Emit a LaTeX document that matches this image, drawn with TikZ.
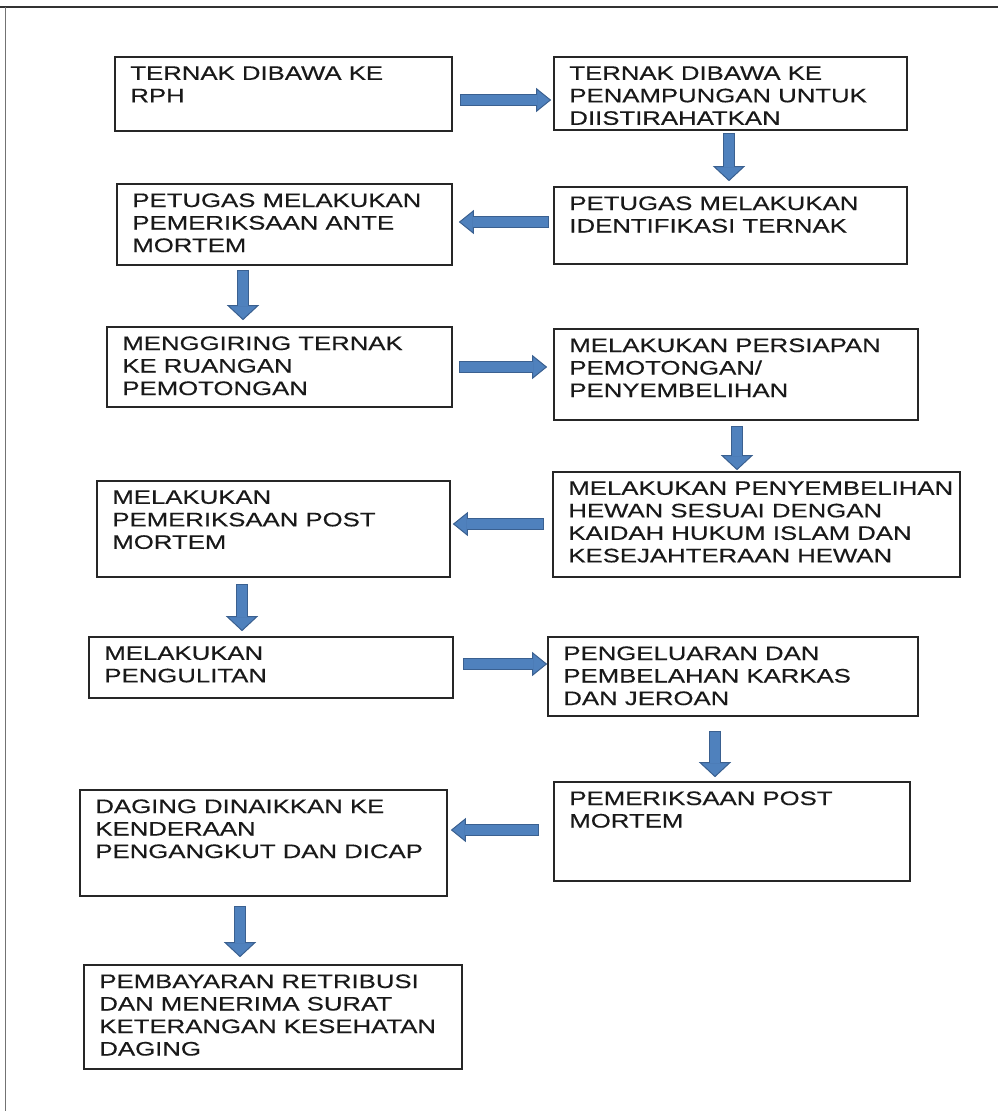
\documentclass[tikz,border=0pt]{standalone}
\usepackage{fontspec}
\setmainfont{Liberation Sans}[FakeStretch=1.32,FakeBold=0.4]
\usetikzlibrary{arrows.meta}
\definecolor{flowblue}{HTML}{4F81BD}
\definecolor{flowedge}{HTML}{3A6090}

\begin{document}
\begin{tikzpicture}[x=1pt,y=-1pt,
  stepbox/.style={draw=black!85,line width=1.6pt,inner sep=0pt},
  steptext/.style={anchor=north west,align=left,inner sep=0pt,xshift=16pt,yshift=-10pt,
    text=black!90,font=\fontsize{19.5}{22.5}\selectfont},
  flow/.style={draw=flowedge,line width=12pt,
    -{Triangle[width=#1,length=15pt,fill=flowblue,line width=1pt]},
    postaction={draw=flowblue,line width=10pt,arrows=-,shorten >=14pt,shorten <=1pt}},
  flow/.default=24pt]
\useasboundingbox (0,0) rectangle (998,1111);
\draw[line width=1.5pt,black!80] (0,7) -- (998,7);
\draw[line width=0.8pt,black!55] (5,7) -- (5,1111);

% left column and right column steps
\node[stepbox,minimum width=337pt,minimum height=74pt] (rph) at (283.5,94) {};
\node[steptext] (rph-t) at (rph.north west) {TERNAK DIBAWA KE\\RPH};
\node[stepbox,minimum width=353pt,minimum height=73pt] (kandang) at (730.5,93.5) {};
\node[steptext] (kandang-t) at (kandang.north west)
  {TERNAK DIBAWA KE\\PENAMPUNGAN UNTUK\\DIISTIRAHATKAN};
\node[stepbox,minimum width=353pt,minimum height=77pt] (identifikasi) at (730.5,225.5) {};
\node[steptext] (identifikasi-t) at (identifikasi.north west)
  {PETUGAS MELAKUKAN\\IDENTIFIKASI TERNAK};
\node[stepbox,minimum width=335pt,minimum height=81pt] (antemortem) at (284.5,224.5) {};
\node[steptext] (antemortem-t) at (antemortem.north west)
  {PETUGAS MELAKUKAN\\PEMERIKSAAN ANTE\\MORTEM};
\node[stepbox,minimum width=345pt,minimum height=80pt] (giring) at (279.5,367) {};
\node[steptext] (giring-t) at (giring.north west)
  {MENGGIRING TERNAK\\KE RUANGAN\\PEMOTONGAN};
\node[stepbox,minimum width=364pt,minimum height=91pt] (persiapan) at (736,374.5) {};
\node[steptext] (persiapan-t) at (persiapan.north west)
  {MELAKUKAN PERSIAPAN\\PEMOTONGAN/\\PENYEMBELIHAN};
\node[stepbox,minimum width=407pt,minimum height=105pt] (sembelih) at (756.5,524.5) {};
\node[steptext] (sembelih-t) at (sembelih.north west)
  {MELAKUKAN PENYEMBELIHAN\\HEWAN SESUAI DENGAN\\KAIDAH HUKUM ISLAM DAN\\KESEJAHTERAAN HEWAN};
\node[stepbox,minimum width=353pt,minimum height=96pt] (postmortem) at (273.5,529) {};
\node[steptext] (postmortem-t) at (postmortem.north west)
  {MELAKUKAN\\PEMERIKSAAN POST\\MORTEM};
\node[stepbox,minimum width=364pt,minimum height=61pt] (kuliti) at (271,667.5) {};
\node[steptext] (kuliti-t) at (kuliti.north west) {MELAKUKAN\\PENGULITAN};
\node[stepbox,minimum width=370pt,minimum height=79pt] (karkas) at (733,676.5) {};
\node[steptext] (karkas-t) at (karkas.north west)
  {PENGELUARAN DAN\\PEMBELAHAN KARKAS\\DAN JEROAN};
\node[stepbox,minimum width=356pt,minimum height=99pt] (periksa) at (732,831.5) {};
\node[steptext] (periksa-t) at (periksa.north west) {PEMERIKSAAN POST\\MORTEM};
\node[stepbox,minimum width=367pt,minimum height=106pt] (angkut) at (263.5,843) {};
\node[steptext] (angkut-t) at (angkut.north west)
  {DAGING DINAIKKAN KE\\KENDERAAN\\PENGANGKUT DAN DICAP};
\node[stepbox,minimum width=378pt,minimum height=104pt] (retribusi) at (273,1017) {};
\node[steptext] (retribusi-t) at (retribusi.north west)
  {PEMBAYARAN RETRIBUSI\\DAN MENERIMA SURAT\\KETERANGAN KESEHATAN\\DAGING};

% block arrows
\draw[flow] ([xshift=7pt,yshift=-6pt]rph.east) -- ([xshift=-2pt,yshift=-6.5pt]kandang.west);
\draw[flow=32pt] ([xshift=-1.5pt,yshift=-2pt]kandang.south) -- ([xshift=-1.5pt,yshift=5pt]identifikasi.north);
\draw[flow] ([xshift=-4pt,yshift=3.5pt]identifikasi.west) -- ([xshift=6pt,yshift=2.5pt]antemortem.east);
\draw[flow=32pt] ([xshift=-41.5pt,yshift=-4pt]antemortem.south) -- ([xshift=-36.5pt,yshift=6pt]giring.north);
\draw[flow] ([xshift=6pt]giring.east) -- ([xshift=-6pt,yshift=7.5pt]persiapan.west);
\draw[flow=32pt] ([xshift=1pt,yshift=-5pt]persiapan.south) -- ([xshift=-19.5pt,yshift=1pt]sembelih.north);
\draw[flow] ([xshift=-8pt,yshift=0.5pt]sembelih.west) -- ([xshift=2pt,yshift=5pt]postmortem.east);
\draw[flow=32pt] ([xshift=-31.5pt,yshift=-6pt]postmortem.south) -- ([xshift=-29pt,yshift=5pt]kuliti.north);
\draw[flow] ([xshift=9pt,yshift=3.5pt]kuliti.east) -- ([yshift=12.5pt]karkas.west);
\draw[flow=32pt] ([xshift=-18pt,yshift=-14pt]karkas.south) -- ([xshift=-17pt,yshift=4pt]periksa.north);
\draw[flow] ([xshift=-14pt,yshift=1.5pt]periksa.west) -- ([xshift=3pt,yshift=13pt]angkut.east);
\draw[flow=32pt] ([xshift=-23.5pt,yshift=-9pt]angkut.south) -- ([xshift=-33pt,yshift=7pt]retribusi.north);
\end{tikzpicture}
\end{document}
